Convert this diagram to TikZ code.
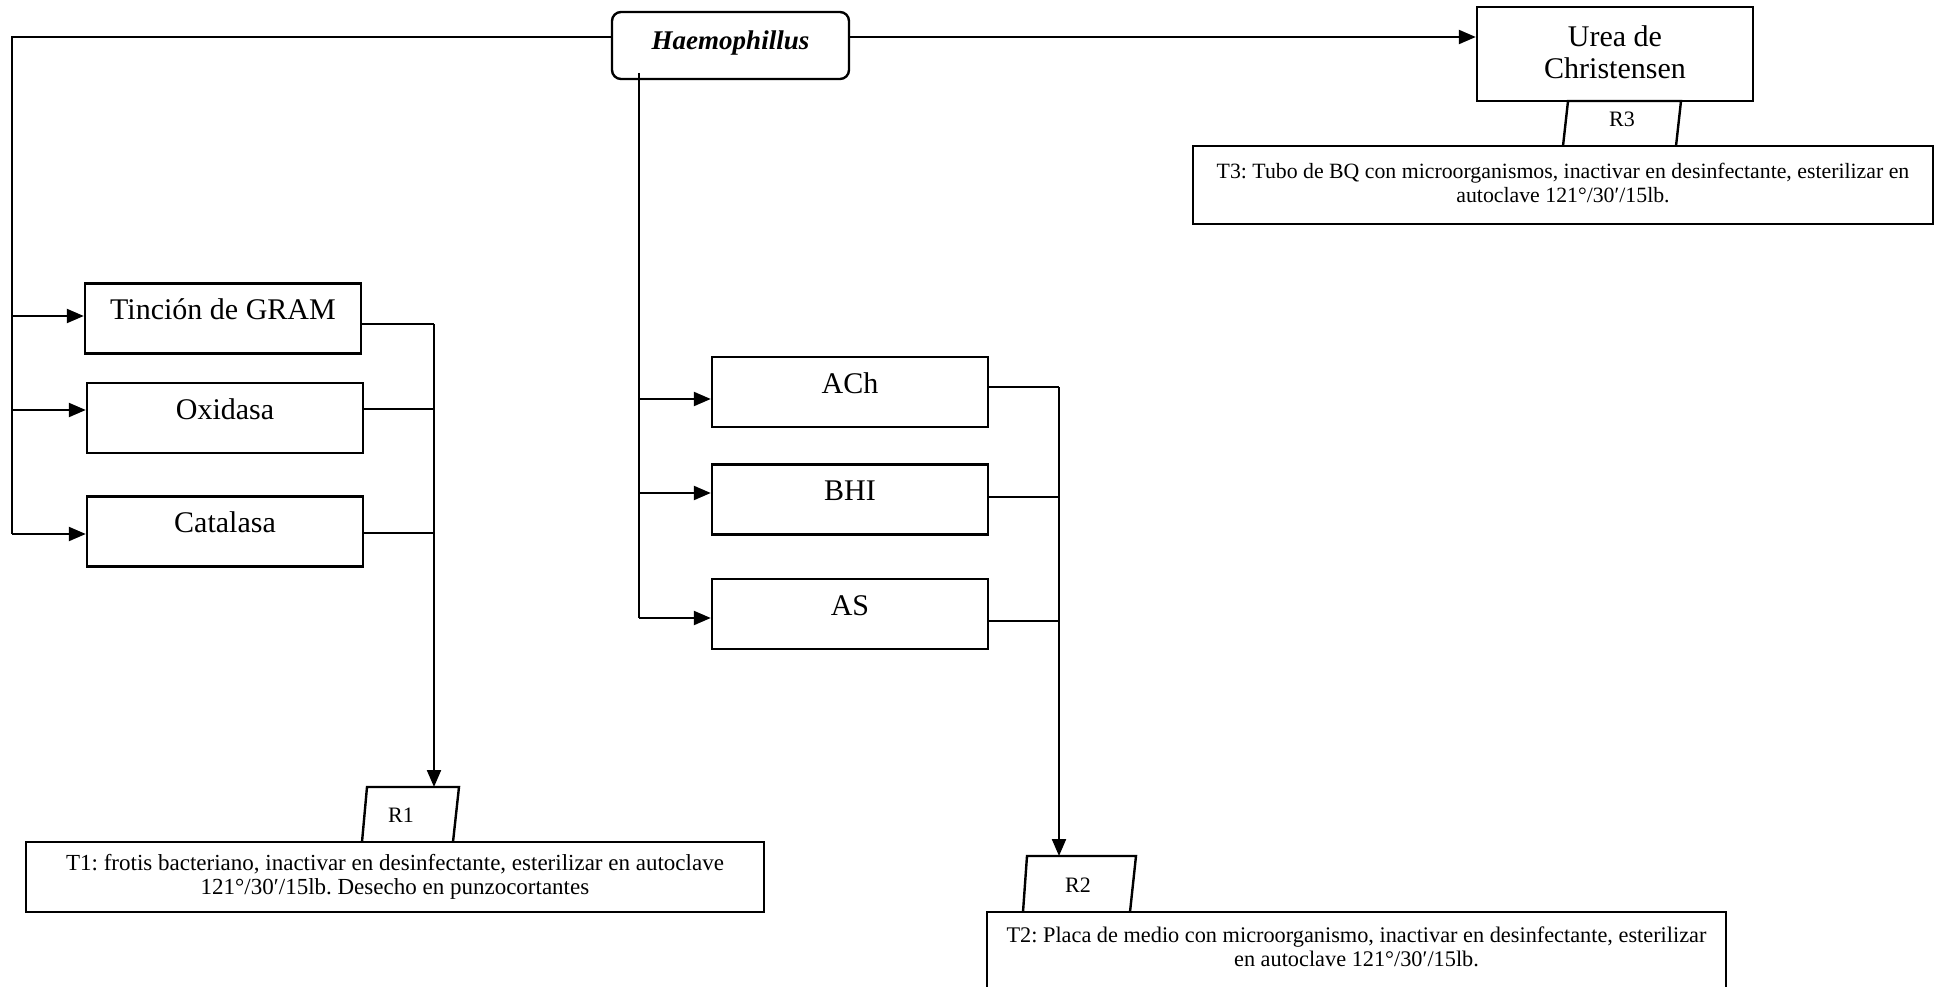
\documentclass[tikz,border=0pt]{standalone}
\usepackage{fontspec}
\setmainfont{Liberation Serif}
\usetikzlibrary{arrows.meta}
\frenchspacing
\begin{document}
\begin{tikzpicture}[x=1pt,y=-1pt,
  conn/.style={line width=2.2pt},
  arr/.style={line width=2.2pt,-{Triangle[length=17pt,width=14pt]}},
  stepbox/.style={draw,line width=2.4pt,minimum width=276pt,inner xsep=0pt,inner ysep=0pt,text height=36pt,text depth=34pt,font=\fontsize{30}{34}\selectfont},
  rlabel/.style={font=\fontsize{22}{24}\selectfont,inner sep=0pt},
  tbox/.style={draw,line width=2.4pt,inner xsep=0pt,inner ysep=0pt,align=center},
  rshape/.style={draw,line width=2.4pt,line join=miter}
]
\useasboundingbox (0,0) rectangle (1939,987);
\clip (0,0) rectangle (1939,987);

% main node
\node[draw,line width=2.4pt,rounded corners=9pt,minimum width=237pt,inner xsep=0pt,inner ysep=0pt,text height=38pt,text depth=29pt,font=\fontsize{27}{30}\selectfont\bfseries\itshape] (hae) at (730.5,45.5) {Haemophillus};

% boxes
\node[stepbox] (gram) at (223,318.5) {Tinción de GRAM};
\node[stepbox] (oxi) at (225,418) {Oxidasa};
\node[stepbox] (cat) at (225,531.5) {Catalasa};
\node[stepbox] (ach) at (850,392) {ACh};
\node[stepbox] (bhi) at (850,499.5) {BHI};
\node[stepbox] (asn) at (850,614) {AS};
\node[draw,line width=2.4pt,minimum width=276pt,inner xsep=0pt,inner ysep=0pt,align=center,text height=72pt,text depth=22pt,font=\fontsize{30}{32}\selectfont] (urea) at (1615,54) {Urea de\\Christensen};

% residue boxes
\node[tbox,minimum width=738pt,text height=52.5pt,text depth=17.5pt,font=\fontsize{23}{24}\selectfont] (t1) at (395,877) {T1: frotis bacteriano, inactivar en desinfectante, esterilizar en autoclave\\121°/30′/15lb. Desecho en punzocortantes};
\node[tbox,minimum width=739pt,text height=54pt,text depth=46pt,font=\fontsize{22.3}{24}\selectfont] (t2) at (1356.5,962) {T2: Placa de medio con microorganismo, inactivar en desinfectante, esterilizar\\en autoclave 121°/30′/15lb.};
\node[tbox,minimum width=740pt,text height=57pt,text depth=21pt,font=\fontsize{21.8}{24}\selectfont] (t3) at (1563,185) {T3: Tubo de BQ con microorganismos, inactivar en desinfectante, esterilizar en\\autoclave 121°/30′/15lb.};

% R parallelograms
\draw[rshape] (362,842) -- (367,787) -- (459,787) -- (453,842);
\node[rlabel] (r1) at (401,815) {R1};
\draw[rshape] (1023,912) -- (1027,856) -- (1136,856) -- (1130,912);
\node[rlabel] (r2) at (1078,885) {R2};
\draw[rshape] (1563,146) -- (1568,101) -- (1681,101) -- (1676,146);
\node[rlabel] (r3) at (1622,119) {R3};

% coordinates
\coordinate (ht) at (1000,37);
\coordinate (lt) at (12,37);
\coordinate (lb) at (12,534);
\coordinate (a1) at (12,316);
\coordinate (a2) at (12,410);
\coordinate (a3) at (12,534);
\coordinate (b1) at (434,324);
\coordinate (b2) at (434,409);
\coordinate (b3) at (434,533);
\coordinate (r1top) at (434,787);
\coordinate (m0) at (639,73);
\coordinate (m1) at (639,399);
\coordinate (m2) at (639,493);
\coordinate (m3) at (639,618);
\coordinate (n1) at (1059,387);
\coordinate (n2) at (1059,497);
\coordinate (n3) at (1059,621);
\coordinate (r2top) at (1059,856);

% connectors
\draw[arr] (ht -| hae.east) -- (ht -| urea.west);
\draw[conn] (ht -| hae.west) -- (lt) -- (lb);
\draw[arr] (a1) -- (a1 -| gram.west);
\draw[arr] (a2) -- (a2 -| oxi.west);
\draw[arr] (a3) -- (a3 -| cat.west);
\draw[conn] (b1 -| gram.east) -- (b1);
\draw[conn] (b2 -| oxi.east) -- (b2);
\draw[conn] (b3 -| cat.east) -- (b3);
\draw[arr] (b1) -- (r1top);

\draw[conn] (m0) -- (m3);
\draw[arr] (m1) -- (m1 -| ach.west);
\draw[arr] (m2) -- (m2 -| bhi.west);
\draw[arr] (m3) -- (m3 -| asn.west);
\draw[conn] (n1 -| ach.east) -- (n1);
\draw[conn] (n2 -| bhi.east) -- (n2);
\draw[conn] (n3 -| asn.east) -- (n3);
\draw[arr] (n1) -- (r2top);
\end{tikzpicture}
\end{document}
